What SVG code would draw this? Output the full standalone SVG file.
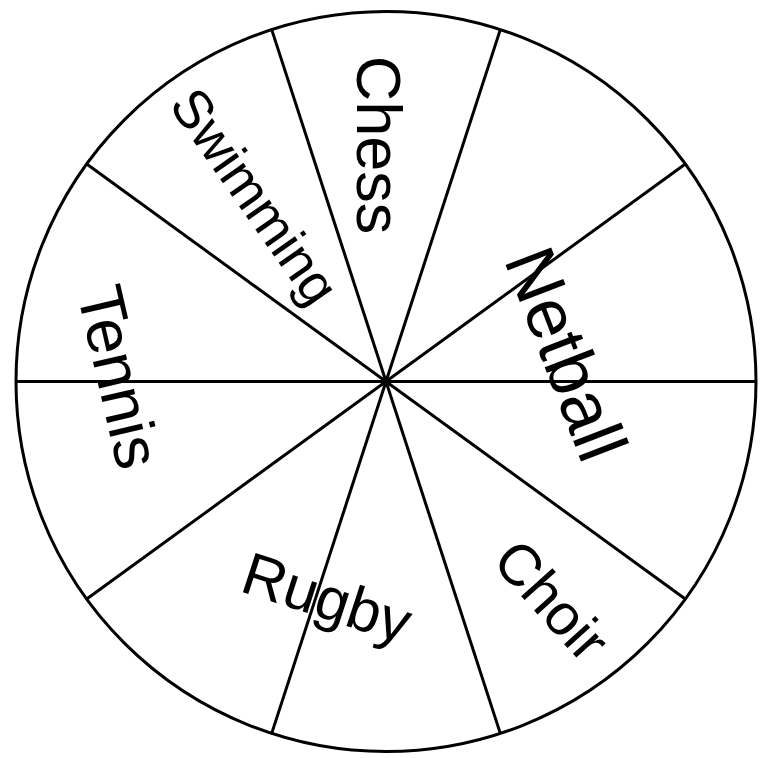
<svg xmlns="http://www.w3.org/2000/svg" width="762" height="758" viewBox="0 0 762 758">
<style>
.ln{stroke:#000;stroke-width:3;fill:none;stroke-linecap:butt}
.lbl{font-family:"Liberation Sans",Arial,sans-serif;fill:#000;text-anchor:middle;dominant-baseline:central}
</style>
<rect width="762" height="758" fill="#fff"/>
<g id="wheel">
<circle class="ln" cx="386" cy="381.5" r="370"/>
</g>
<g id="connectors">
<line class="ln" x1="16" y1="381.5" x2="756" y2="381.5"/>
<line class="ln" x1="685.3" y1="164" x2="86.7" y2="599"/>
<line class="ln" x1="500.3" y1="29.6" x2="271.7" y2="733.4"/>
<line class="ln" x1="271.7" y1="29.6" x2="500.3" y2="733.4"/>
<line class="ln" x1="86.7" y1="164" x2="685.3" y2="599"/>
</g>
<g id="chess"><text class="lbl" font-size="63" transform="translate(379,145) rotate(90)">Chess</text></g>
<g id="swimming"><text class="lbl" font-size="54" transform="translate(255,196) rotate(55)">Swimming</text></g>
<g id="netball"><text class="lbl" font-size="71" transform="translate(566,354) rotate(69)">Netball</text></g>
<g id="tennis"><text class="lbl" font-size="64" transform="translate(119,377) rotate(77)">Tennis</text></g>
<g id="rugby"><text class="lbl" font-size="60" transform="translate(327,598) rotate(18)">Rugby</text></g>
<g id="choir"><text class="lbl" font-size="58" transform="translate(552,600) rotate(48)">Choir</text></g>
</svg>
